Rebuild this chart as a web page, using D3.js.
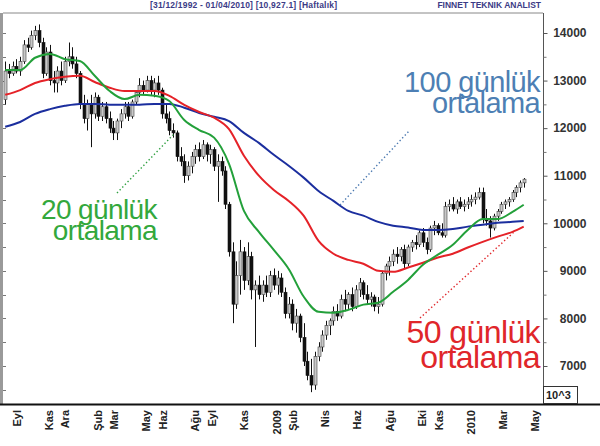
<!DOCTYPE html>
<html><head><meta charset="utf-8">
<script src="https://cdn.jsdelivr.net/npm/d3@7"></script>
<style>body{margin:0;background:#fff}svg{display:block}</style>
</head><body>
<svg id="c" width="600" height="446"></svg>
<script>
// ---------- DATA ----------
const firstWeek = "2007-08-03";   // weekly bars
const open  = [12600,13200,13150,13300,13200,13400,13750,13700,13950,14050,13800,13150,13600,13000,12950,13200,13000,13400,13500,13350,
13150,12500,12200,12500,12300,12650,12250,12450,12200,12000,11900,12150,12300,12450,12250,12550,12750,12900,12800,13000,
12800,12950,12800,12300,12200,11950,11900,11400,11300,11000,11200,11400,11550,11400,11650,11450,11550,11200,11300,11100,
10400,9400,8300,8900,9400,8800,9300,8600,8700,8500,8700,8550,8900,8700,8850,8550,8100,8300,7900,8050,
7600,7100,6800,6600,7200,7400,7650,7850,7950,8150,8050,8400,8300,8500,8250,8600,8750,8500,8400,8450,
8250,8300,8950,9100,9200,9350,9300,9450,9150,9500,9600,9550,9800,9600,9450,9900,9950,9800,9750,10350,
10400,10300,10450,10350,10400,10450,10500,10550,10650,10100,10050,9900,10150,10250,10400,10450,10500,10650,10750,10850];
const high  = [13400,13350,13400,13450,13500,13850,13900,14050,14150,14180,13900,13700,13750,13200,13300,13400,13500,13800,13700,13500,
13200,12700,12600,12700,12750,12700,12550,12550,12350,12150,12200,12400,12550,12550,12600,12800,13050,13000,13100,13100,
13050,13100,12850,12500,12350,12100,11950,11600,11450,11300,11500,11650,11700,11750,11700,11650,11600,11450,11400,11200,
10450,9600,9200,9650,9500,9600,9400,8800,8900,8800,8900,9000,9050,9000,8950,8650,8450,8400,8200,8100,
7900,7300,7150,7300,7500,7750,7950,8000,8250,8300,8500,8600,8550,8650,8700,8850,8800,8700,8550,8500,
8450,9000,9150,9300,9450,9500,9500,9550,9550,9650,9750,9850,9900,9700,9950,10050,10000,10000,10450,10500,
10550,10500,10550,10500,10550,10600,10650,10750,10750,10300,10150,10200,10300,10450,10500,10550,10700,10800,10900,10950];
const low   = [12500,13050,13100,13150,13100,13350,13600,13650,13850,13700,13050,13100,12900,12750,12750,12900,12950,13300,13250,13050,
12400,12100,11950,11600,12200,12150,12150,12100,11900,11750,11750,12000,12200,12150,12200,12500,12650,12700,12750,12700,
12650,12700,12200,12100,11850,11800,11300,11200,10850,10900,11050,11250,11300,11350,11300,11250,11100,10450,11000,10300,
9300,7900,8200,8500,8600,8700,8400,7400,8400,8350,8450,8450,8600,8500,8450,8000,8000,7750,7700,7500,
7000,6700,6450,6500,7100,7300,7550,7650,7850,7950,8000,8150,8200,8150,8200,8450,8400,8300,8250,8150,
8100,8250,8800,8900,9100,9150,9200,9050,9100,9400,9450,9500,9500,9350,9400,9750,9750,9700,9700,10250,
10250,10200,10300,10250,10300,10350,10400,10500,10000,9950,9700,9850,10050,10200,10300,10350,10450,10550,10650,10750];
const close = [13200,13150,13300,13200,13400,13750,13700,13950,14050,13800,13150,13600,13000,12950,13200,13000,13400,13500,13350,13150,
12500,12200,12500,12300,12650,12250,12450,12200,12000,11900,12150,12300,12450,12250,12550,12750,12900,12800,13000,12800,
12950,12800,12300,12200,11950,11900,11400,11300,11000,11200,11400,11550,11400,11650,11450,11550,11200,11300,11100,10400,
9400,8300,8900,9400,8800,9300,8600,8700,8500,8700,8550,8900,8700,8850,8550,8100,8300,7900,8050,7600,
7100,6800,6600,7200,7400,7650,7850,7950,8150,8050,8400,8300,8500,8250,8600,8750,8500,8400,8450,8250,
8300,8950,9100,9200,9350,9300,9450,9150,9500,9600,9550,9800,9600,9450,9900,9950,9800,9750,10350,10400,
10300,10450,10350,10400,10450,10500,10550,10650,10100,10050,9900,10150,10250,10400,10450,10500,10650,10750,10850,10927.1];

// moving averages, read every 4th week (week index from firstWeek)
const maWeeks = [0,4,8,12,16,20,24,28,32,36,40,44,48,52,56,60,64,68,72,76,80,84,88,92,96,100,104,108,112,116,120,124,128,132,136,139];
const ma20  = [13220,13220,13480,13560,13450,13410,13100,12780,12610,12700,12680,12570,12170,11960,11800,11250,10260,9820,9440,9040,8460,8140,8120,8180,8290,8330,8560,8810,9130,9340,9550,9860,10090,10090,10240,10390];
const ma50  = [12700,12800,12950,13030,13080,13100,12970,12850,12780,12780,12780,12680,12490,12340,12220,11980,11420,11000,10700,10470,10160,9630,9360,9230,9150,9000,8980,9070,9170,9280,9360,9490,9610,9720,9820,9930];
const ma100 = [12030,12130,12300,12400,12470,12510,12510,12490,12490,12490,12510,12510,12430,12320,12240,12150,11900,11690,11440,11210,10960,10680,10470,10260,10160,10030,9950,9910,9860,9860,9880,9930,9970,10010,10030,10050];

const yTicks = [7000,8000,9000,10000,11000,12000,13000,14000];
const xTickLabels = ["Eyl","Kas","Ara","Şub","Mar","May","Haz","Ağu","Eyl","Kas","2009","Şub","Nis","Haz","Ağu","Eki","Kas","2010","Mar","May"];
const xTickDates  = ["2007-09-01","2007-11-01","2007-12-01","2008-02-01","2008-03-01","2008-05-01","2008-06-01","2008-08-01","2008-09-01","2008-11-01",
                     "2009-01-01","2009-02-01","2009-04-01","2009-06-01","2009-08-01","2009-10-01","2009-11-01","2010-01-01","2010-03-01","2010-05-01"];
const headerLeft = "[31/12/1992 - 01/04/2010]  [10,927.1]  [Haftalık]";
const headerRight = "FINNET TEKNIK ANALIST";

// ---------- DRAW ----------
const svg = d3.select("#c");
const F = "'Liberation Sans', Arial, sans-serif";
const L = 3, R = 543, T = 13, B = 404;
const parse = d3.utcParse("%Y-%m-%d");
const t0 = parse(firstWeek);
const weekDate = i => d3.utcDay.offset(t0, 7 * i);
const x = d3.scaleUtc().domain([t0, weekDate(139)]).range([5.2, 523.7]);
const y = d3.scaleLinear().domain([7000, 14000]).range([366, 33]);

// header
svg.append("text").attr("x", 150).attr("y", 8).attr("font-family", F).attr("font-size", 8.5)
  .attr("font-weight", "bold").attr("fill", "#3b3b86").attr("textLength", 187).text(headerLeft);
svg.append("text").attr("x", 541).attr("y", 8).attr("text-anchor", "end").attr("font-family", F).attr("font-size", 8.5)
  .attr("font-weight", "bold").attr("fill", "#3b3b86").text(headerRight);

// frame
svg.append("rect").attr("x", 0).attr("y", T).attr("width", 3).attr("height", B - T).attr("fill", "#9a9a9a");
svg.append("line").attr("x1", L).attr("x2", R).attr("y1", T).attr("y2", T).attr("stroke", "#888").attr("stroke-width", 1);
svg.append("line").attr("x1", R + 0.5).attr("x2", R + 0.5).attr("y1", T).attr("y2", B).attr("stroke", "#555").attr("stroke-width", 1);
svg.append("line").attr("x1", 0).attr("x2", 600).attr("y1", B + 0.5).attr("y2", B + 0.5).attr("stroke", "#111").attr("stroke-width", 2);

// left inner ticks every 500
const half = d3.range(6500, 14500, 500);
svg.append("g").selectAll("line").data(half).join("line")
  .attr("x1", 3).attr("x2", 6).attr("y1", d => Math.round(y(d)) + 0.5).attr("y2", d => Math.round(y(d)) + 0.5)
  .attr("stroke", "#777");

// right axis
const ax = svg.append("g").attr("transform", `translate(${R + 0.5},0)`)
  .call(d3.axisRight(y).tickValues(yTicks).tickSize(4).tickFormat(d3.format("d")));
ax.select(".domain").remove();
ax.selectAll("line").attr("stroke", "#555");
ax.selectAll("text").attr("x", 43).attr("text-anchor", "end").attr("font-family", F)
  .attr("font-size", 12).attr("font-weight", "bold").attr("fill", "#333");
const ax2 = svg.append("g").attr("transform", `translate(${R + 0.5},0)`)
  .call(d3.axisRight(y).tickValues(half.filter(d => d % 1000 && y(d) > T && y(d) < B)).tickSize(3).tickFormat(""));
ax2.select(".domain").remove();
ax2.selectAll("line").attr("stroke", "#777");

// 10^3 box
svg.append("rect").attr("x", R + 0.5).attr("y", 386.5).attr("width", 34).attr("height", 17).attr("fill", "#fff").attr("stroke", "#333");
svg.append("text").attr("x", R + 3).attr("y", 399).attr("font-family", F).attr("font-size", 11).attr("font-weight", "bold").attr("fill", "#222").text("10^3");

// x labels
svg.append("g").selectAll("text").data(xTickDates).join("text")
  .attr("transform", d => `translate(${x(parse(d)) - 4},410) rotate(-90)`)
  .attr("text-anchor", "end").attr("dy", "0.36em").attr("font-family", F).attr("font-size", 11)
  .attr("font-weight", "bold").attr("fill", "#222").text((d, i) => xTickLabels[i]);

// candlesticks
const idx = d3.range(close.length);
const gC = svg.append("g");
gC.selectAll("line").data(idx).join("line")
  .attr("x1", i => Math.round(x(weekDate(i))) + 0.5).attr("x2", i => Math.round(x(weekDate(i))) + 0.5)
  .attr("y1", i => y(high[i])).attr("y2", i => y(low[i])).attr("stroke", "#111").attr("stroke-width", 1);
gC.selectAll("rect").data(idx).join("rect")
  .attr("x", i => Math.round(x(weekDate(i))) - 1).attr("width", 3)
  .attr("y", i => y(Math.max(open[i], close[i])))
  .attr("height", i => Math.max(1, Math.abs(y(open[i]) - y(close[i]))))
  .attr("fill", i => close[i] >= open[i] ? "#c8c8c8" : "#111")
  .attr("stroke", i => close[i] >= open[i] ? "#444" : "#111").attr("stroke-width", 0.6);

// moving averages
const mk = arr => maWeeks.map((w, k) => [w, arr[k]]);
const drawMA = (arr, col) => svg.append("path").attr("d", d3.line().x(d => x(weekDate(d[0]))).y(d => y(d[1])).curve(d3.curveMonotoneX)(mk(arr)))
  .attr("fill", "none").attr("stroke", col).attr("stroke-width", 2);
drawMA(ma100, "#1b2e9e");
drawMA(ma50, "#e52228");
drawMA(ma20, "#23a03a");

// annotation leader lines (dotted)
const dot = (x1, y1, x2, y2, c) => svg.append("line").attr("x1", x1).attr("y1", y1).attr("x2", x2).attr("y2", y2)
  .attr("stroke", c).attr("stroke-width", 1.4).attr("stroke-dasharray", "1.4,2.4");
dot(340, 205, 410, 130, "#4a78b0");
dot(117, 193, 175, 133, "#2fa040");
dot(420, 318, 514, 232, "#e0262a");

// annotation texts
const label = (lines, xe, ys, size, col) => lines.forEach((t, k) =>
  svg.append("text").attr("x", xe).attr("y", ys[k]).attr("text-anchor", "end").attr("font-family", F)
    .attr("font-size", size).attr("letter-spacing", -0.6).attr("fill", col).text(t));
label(["100 günlük", "ortalama"], 540, [92, 113], 29, "#4d7fb4");
label(["20 günlük", "ortalama"], 157, [219, 240], 28, "#33a83c");
label(["50 günlük", "ortalama"], 540, [343, 368], 32, "#e0262a");
</script>
</body></html>
